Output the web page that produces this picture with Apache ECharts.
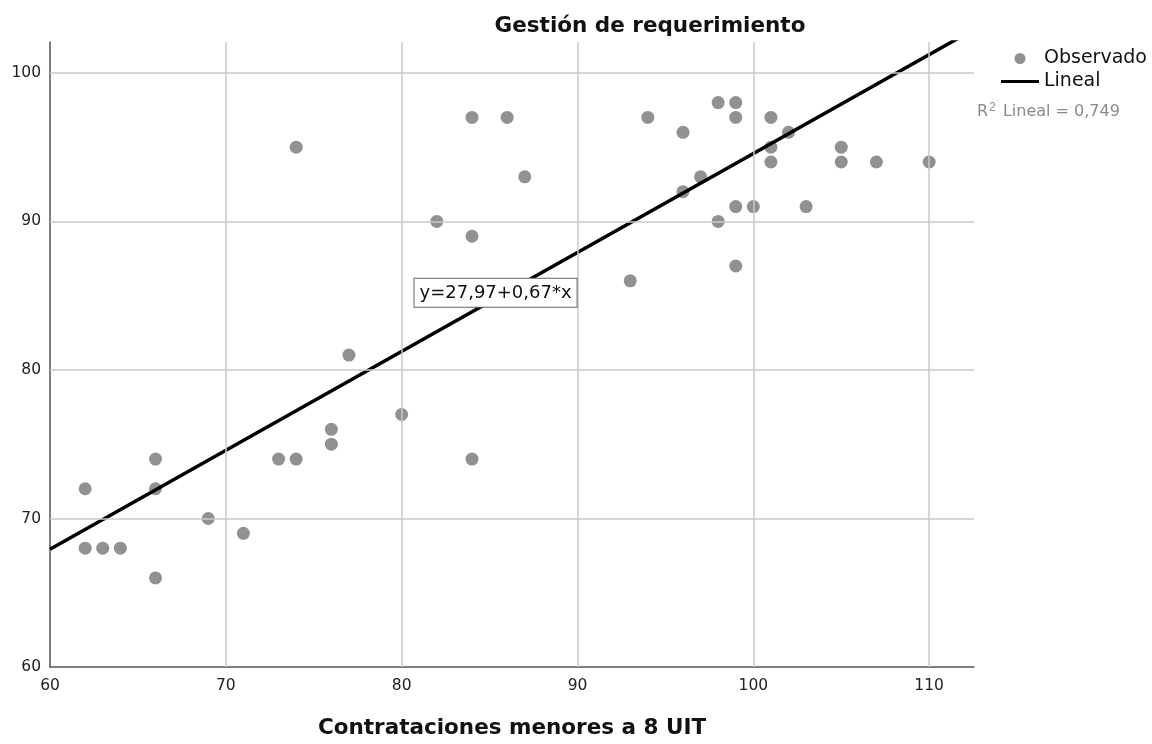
<!DOCTYPE html>
<html>
<head>
<meta charset="utf-8">
<script src="https://cdn.jsdelivr.net/npm/echarts@6/dist/echarts.min.js"></script>
<style>html,body{margin:0;padding:0;background:#fff;overflow:hidden}#c{width:1152px;height:744px}</style>
</head>
<body>
<div id="c"></div>
<script>
// Observed data: Contrataciones menores a 8 UIT (x) vs Gestión de requerimiento (y)
const xValues = [62,62,63,64,66,66,66,69,71,73,74,74,76,76,77,80,82,84,84,84,86,87,93,94,96,96,97,98,98,99,99,99,99,100,101,101,101,102,103,105,105,107,110];
const yValues = [72,68,68,68,74,72,66,70,69,74,74,95,76,75,81,77,90,97,89,74,97,93,86,97,96,92,93,98,90,98,97,91,87,91,97,95,94,96,91,95,94,94,94];
// Linear fit (label shows rounded coefficients)
const intercept = 27.97;
const slope = 0.666;
const fitLabel = 'y=27,97+0,67*x';
const r2Label = '0,749';
const gridLineX = [70,80,90,100,110];
const gridLineY = [70,80,90,100];
const xMin = 60, xMax = 112.55, yMin = 60, yMax = 102.08;

const points = xValues.map((x,i)=>[x,yValues[i]]);
const lineData = [xMin, xMax].map(x=>[x, intercept + slope*x]);

const FONT = 'DejaVu Sans';
const chart = echarts.init(document.getElementById('c'));
chart.setOption({
  animation:false,
  backgroundColor:'#fff',
  textStyle:{fontFamily:FONT},
  title:{
    text:'Gestión de requerimiento',
    left:645, top:10, textAlign:'center',
    textStyle:{fontFamily:FONT,fontSize:21.5,fontWeight:'bold',color:'#111'}
  },
  grid:{left:50,top:42,width:924,height:628,containLabel:false},
  legend:{
    orient:'vertical', left:996, top:44, itemWidth:38, itemHeight:11, itemGap:4,
    textStyle:{fontFamily:FONT,fontSize:19,color:'#111'},
    data:[{name:'Observado',icon:'circle'},{name:'Lineal',icon:'path://M0,0H38V3H0Z'}]
  },
  xAxis:{
    type:'value', min:xMin, max:xMax, interval:10,
    name:'Contrataciones menores a 8 UIT', nameLocation:'middle', nameGap:50,
    nameTextStyle:{fontFamily:FONT,fontSize:21.5,fontWeight:'bold',color:'#111'},
    axisLine:{show:true,lineStyle:{color:'#555',width:1.5}},
    axisTick:{show:false},
    splitLine:{show:false},
    axisLabel:{showMaxLabel:false,fontSize:15.5,color:'#222',margin:11,fontFamily:FONT}
  },
  yAxis:{
    type:'value', min:yMin, max:yMax, interval:10,
    axisLine:{show:true,lineStyle:{color:'#555',width:1.5}},
    axisTick:{show:false},
    splitLine:{show:false},
    axisLabel:{showMaxLabel:false,fontSize:15.5,color:'#222',margin:9,fontFamily:FONT}
  },
  graphic:[{
    type:'text', left:977, top:102,
    style:{
      text:'R{sup|2} Lineal = '+r2Label,
      fontFamily:FONT, fontSize:16, fill:'#8a8a8a',
      rich:{sup:{fontSize:12,fill:'#8a8a8a',verticalAlign:'top',padding:[0,2,8,1]}}
    }
  }],
  series:[
    {
      name:'Observado', type:'scatter', data:points, symbolSize:13,
      itemStyle:{color:'#767676'}, z:3,
      markLine:{
        silent:true, symbol:'none', animation:false,
        label:{show:false},
        lineStyle:{color:'#cacaca',width:1.5,type:'solid'},
        data:[...gridLineX.map(v=>({xAxis:v})), ...gridLineY.map(v=>({yAxis:v}))]
      }
    },
    {
      name:'Lineal', type:'line', data:lineData, symbol:'none', clip:true,
      lineStyle:{color:'#000',width:3.5}, itemStyle:{color:'#000'}, z:4,
      markPoint:{
        symbol:'rect', symbolSize:1, itemStyle:{color:'rgba(0,0,0,0)'},
        data:[{coord:[85.34,85.19]}],
        label:{
          show:true, position:'inside', formatter:fitLabel,
          fontFamily:FONT, fontSize:18, color:'#111',
          backgroundColor:'#fff', borderColor:'#666', borderWidth:1, padding:[5,5,5,5]
        }
      }
    }
  ]
});
</script>
</body>
</html>
